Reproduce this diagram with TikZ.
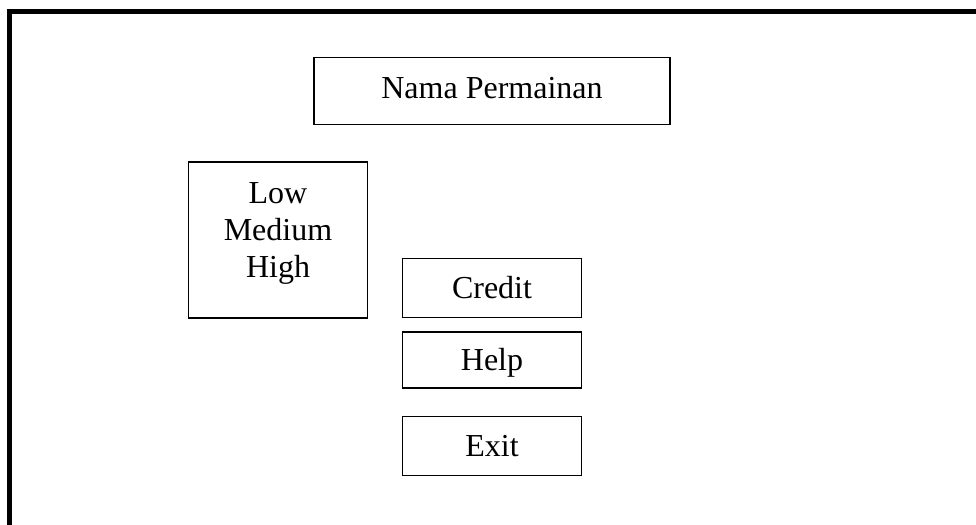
\documentclass[tikz,border=0pt]{standalone}
\usepackage{fontspec}
\setmainfont{Liberation Serif}
\usepackage{tikz}

\begin{document}
\begin{tikzpicture}[x=0.75pt, y=-0.75pt,
			box/.style = {draw, line width=1pt, inner sep=0pt, text height=15.9pt, text depth=0pt},
			btn/.style = {box, minimum width=134pt, minimum height=44pt},
			font=\fontsize{24}{27.75}\selectfont]
			\useasboundingbox (0,0) rectangle (976,525);
			%screen frame
			\draw[line width=3.5pt] (9.2,525) -- (9.2,11.5) -- (976,11.5);
			%title
			\node[box, minimum width=267pt, minimum height=50pt, text depth=4.8pt] (nama) at (492,91) {Nama Permainan};
			%level choice
			\node[box, minimum width=134pt, minimum height=117pt] (levelbox) at (278,240) {};
			\node[align=center, inner sep=0pt] (leveltext) at (278,233) {Low\\Medium\\High};
			%menu buttons
			\node[btn] (credit) at (492,288) {Credit};
			\node[btn, minimum height=42pt] (help) at (492,360) {Help};
			\node[btn] (exit) at (492,446) {Exit};
		\end{tikzpicture}
\end{document}
